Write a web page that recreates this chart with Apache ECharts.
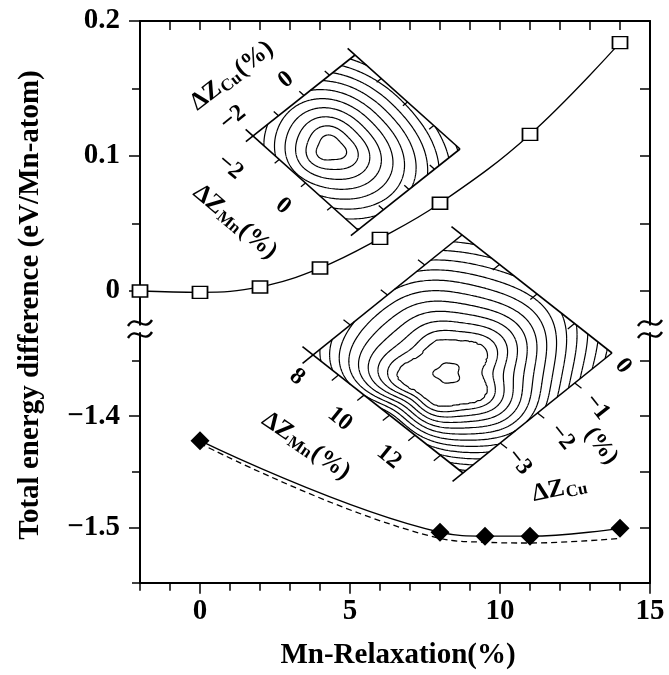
<!DOCTYPE html>
<html>
<head>
<meta charset="utf-8">
<script src="https://cdn.jsdelivr.net/npm/echarts@6/dist/echarts.min.js"></script>
<style>html,body{margin:0;padding:0;background:#fff}#c{width:669px;height:675px}</style>
</head>
<body>
<div id="c"></div>
<script>
// ---------- data ----------
const xMin = -2, xMax = 15;
const upperX = [-2, 0, 2, 4, 6, 8, 11, 14];
const upperY = [0.000, -0.001, 0.003, 0.017, 0.039, 0.065, 0.116, 0.184];
const lowerX = [0, 8, 9.5, 11, 14];
const lowerSolidY = [-1.422, -1.5045, -1.508, -1.508, -1.501];
const lowerDashedY = [-1.4245, -1.510, -1.5135, -1.5142, -1.510];
const xLabelValues = [0, 5, 10, 15];
const upperMajor = [0, 0.1, 0.2];
const upperMinor = [0.05, 0.15];
const upperRight = [0, 0.05, 0.1, 0.15, 0.2];
const lowerMajor = [-1.5, -1.4];
const lowerMinor = [-1.55, -1.45, -1.35];
const lowerRight = [-1.5, -1.45, -1.4, -1.35];
const xTitle = 'Mn-Relaxation(%)';
const yTitle = 'Total energy difference (eV/Mn-atom)';

// inset contour levels (contour index of the model energy surfaces)
const upperInsetLevels = [1, 2, 3, 4, 5, 6, 7, 8, 9, 10, 11, 12, 13];
const lowerInsetLevels = [0.3, 1, 2, 3, 4, 5, 6, 7, 8, 9, 10, 11, 12, 13, 14, 15, 16, 17, 18, 19, 20];

// ---------- helpers ----------
const FONT = 'Liberation Serif';
const black = '#000';
const pairs = (xs, ys) => xs.map((x, i) => [x, ys[i]]);
const fmt = v => v === 0 ? '0' : (v < 0 ? '\u2212' : '') + Math.abs(v).toFixed(1);
const labelStyle = {color: black, fontFamily: FONT, fontWeight: 'bold', fontSize: 29};

function contourPath(f, levels, map, N) {
  const g = [];
  for (let i = 0; i <= N; i++) { g.push([]); for (let j = 0; j <= N; j++) g[i].push(f(i / N, j / N)); }
  let d = '';
  for (const lv of levels) {
    for (let i = 0; i < N; i++) for (let j = 0; j < N; j++) {
      const c = [[i, j], [i + 1, j], [i + 1, j + 1], [i, j + 1]];
      const pts = [];
      for (let e = 0; e < 4; e++) {
        const a = c[e], b = c[(e + 1) % 4];
        const va = g[a[0]][a[1]] - lv, vb = g[b[0]][b[1]] - lv;
        if ((va < 0) !== (vb < 0)) {
          const t = va / (va - vb);
          const u = (a[0] + t * (b[0] - a[0])) / N, v = (a[1] + t * (b[1] - a[1])) / N;
          pts.push(map(u, v));
        }
      }
      for (let k = 0; k + 1 < pts.length; k += 2) {
        d += 'M' + pts[k][0].toFixed(2) + ' ' + pts[k][1].toFixed(2) + 'L' + pts[k + 1][0].toFixed(2) + ' ' + pts[k + 1][1].toFixed(2);
      }
    }
  }
  return d;
}

// model surface: basin of radius r0 around (cu,cv), then contour spacing sp per direction [u+, u-, v+, v-]
function makeField(c) {
  return (u, v) => {
    const du = u - c.cu, dv = v - c.cv;
    const rho = Math.hypot(du, dv), th = Math.atan2(dv, du);
    const cs = Math.cos(th), sn = Math.sin(th);
    const sp = c.sp[0] * Math.max(cs, 0) ** 2 + c.sp[1] * Math.max(-cs, 0) ** 2 +
               c.sp[2] * Math.max(sn, 0) ** 2 + c.sp[3] * Math.max(-sn, 0) ** 2;
    const r0 = c.r0 * (1 + c.wob * Math.sin(3 * th + c.ph) + c.wob2 * Math.sin(5 * th + 0.7));
    const wig = c.wig * Math.sin(2 * th + 9 * rho);
    return rho < r0 ? rho / r0 : 1 + (rho - r0) / sp + wig;
  };
}

const contourPaths = [];
function inset(cfg) {
  const {L, B, T} = cfg;
  const map = (u, v) => [L[0] + u * (B[0] - L[0]) + v * (T[0] - L[0]), L[1] + u * (B[1] - L[1]) + v * (T[1] - L[1])];
  const els = [];
  contourPaths.push(contourPath(cfg.f, cfg.levels, map, 110));
  const ext = 0.07;
  const line = (p, q, w) => els.push({type: 'line', shape: {x1: p[0], y1: p[1], x2: q[0], y2: q[1]}, style: {stroke: black, lineWidth: w || 1.6}, z: 11});
  line(map(0, -ext), map(0, 1));
  line(map(-ext, 0), map(1, 0));
  line(map(-ext, 1), map(1, 1));
  line(map(1, -ext), map(1, 1));
  const tl = 0.045;
  (cfg.t1 || []).forEach(v => line(map(0, v), map(-tl, v), 1.3));
  (cfg.t2 || []).forEach(u => line(map(u, 0), map(u, -tl), 1.3));
  (cfg.t3 || []).forEach(u => line(map(u, 1), map(u, 1 + cfg.s3 * tl), 1.3));
  (cfg.t4 || []).forEach(v => line(map(1, v), map(1 + cfg.s4 * tl, v), 1.3));
  return els;
}

const upperF = makeField({cu: 0.42, cv: 0.33, r0: 0.1, sp: [0.085, 0.075, 0.07, 0.07], wob: 0.12, ph: 0.3, wob2: 0, wig: 0});
const lowerF = makeField({cu: 0.53, cv: 0.37, r0: 0.2, sp: [0.04, 0.06, 0.055, 0.026], wob: 0.1, ph: 2.2, wob2: 0.08, wig: 0.15});

const graphics = [];
graphics.push(...inset({L: [253, 136], B: [358, 230], T: [355, 55], f: upperF, levels: upperInsetLevels,
  t1: [0.25, 0.5, 0.75], t2: [0.25, 0.5, 0.75], t3: [0.25, 0.5, 0.75], s3: -1, t4: [0.25, 0.5, 0.75], s4: -1}));
graphics.push(...inset({L: [313, 355], B: [463, 473], T: [462, 235], f: lowerF, levels: lowerInsetLevels,
  t1: [0.25, 0.5, 0.75], t2: [0.17, 0.34, 0.51, 0.68, 0.85], t3: [0.25, 0.5, 0.75], s3: -1, t4: [0.25, 0.5, 0.75], s4: 1}));

const richSt = {
  m: {fontFamily: FONT, fontWeight: 'bold', fontSize: 25, fill: black},
  s: {fontFamily: FONT, fontWeight: 'bold', fontSize: 17, fill: black, padding: [10, 1, 0, 1]}
};
const insetTexts = [
  // upper inset
  {t: '{m|ΔZ}{s|Cu}{m|(%)}', x: 232, y: 76, r: 0.66},
  {t: '\u22122', x: 233, y: 118, r: 0.68, fs: 24},
  {t: '0', x: 286, y: 80, r: 0.68, fs: 24},
  {t: '{m|ΔZ}{s|Mn}{m|(%)}', x: 235, y: 222, r: -0.7},
  {t: '\u22122', x: 230, y: 167, r: -0.7, fs: 24},
  {t: '0', x: 283, y: 206, r: -0.7, fs: 24},
  // lower inset
  {t: '8', x: 297, y: 377, r: -0.68, fs: 24},
  {t: '10', x: 340, y: 419, r: -0.68, fs: 24},
  {t: '12', x: 389, y: 457, r: -0.68, fs: 24},
  {t: '{m|ΔZ}{s|Mn}{m|(%)}', x: 306, y: 446, r: -0.6},
  {t: '0', x: 623, y: 366, r: -0.9, fs: 24},
  {t: '\u22121', x: 597, y: 407, r: -0.9, fs: 24},
  {t: '\u22122', x: 562, y: 437, r: -0.9, fs: 24},
  {t: '\u22123', x: 519, y: 462, r: -0.9, fs: 24},
  {t: '{m|ΔZ}{s|Cu}', x: 560, y: 489, r: 0.2},
  {t: '(%)', x: 601, y: 446, r: -0.9, fs: 24}
];
insetTexts.forEach(o => {
  graphics.push({type: 'text', x: o.x, y: o.y, rotation: o.r, z: 12,
    style: {text: o.t, fontFamily: FONT, fontWeight: 'bold', fontSize: o.fs || 25, fill: black,
      align: 'center', verticalAlign: 'middle', rich: richSt}});
});

// axis titles
graphics.push({type: 'text', x: 31, y: 305, rotation: Math.PI / 2,
  style: {text: yTitle, fontFamily: FONT, fontWeight: 'bold', fontSize: 29, fill: black, align: 'center', verticalAlign: 'middle'}});
graphics.push({type: 'text', x: 398, y: 656,
  style: {text: xTitle, fontFamily: FONT, fontWeight: 'bold', fontSize: 29, fill: black, align: 'center', verticalAlign: 'middle'}});

// axis break marks
[[140, 323], [140, 335], [650, 323], [650, 335]].forEach(p => {
  graphics.push({type: 'bezierCurve', x: p[0], y: p[1], z: 20,
    shape: {x1: -12, y1: 3, cpx1: -4, cpy1: -10, cpx2: 4, cpy2: 10, x2: 12, y2: -3},
    style: {stroke: black, lineWidth: 2.4, fill: null}});
});

const axLine = {show: true, onZero: false, lineStyle: {color: black, width: 2}};
const noLine = {show: false, onZero: false};
const tickSt = {color: black, width: 1.5};
const noSplit = {show: false};

const option = {
  animation: false,
  backgroundColor: '#fff',
  grid: [
    {left: 140, top: 21, width: 510, height: 303.75},
    {left: 140, top: 333, width: 510, height: 249.75}
  ],
  xAxis: [
    {gridIndex: 0, type: 'value', position: 'top', min: xMin, max: xMax, interval: 1,
      axisLine: axLine, axisTick: {inside: true, length: 9, lineStyle: tickSt}, axisLabel: {show: false}, splitLine: noSplit},
    {gridIndex: 1, type: 'value', position: 'bottom', min: xMin, max: xMax, interval: 1,
      axisLine: axLine, axisTick: {inside: false, length: 8, lineStyle: tickSt},
      axisLabel: Object.assign({customValues: xLabelValues, margin: 14}, labelStyle), splitLine: noSplit},
    {gridIndex: 1, type: 'value', position: 'bottom', min: xMin, max: xMax,
      axisLine: noLine, axisTick: {customValues: xLabelValues, length: 11, lineStyle: tickSt},
      axisLabel: {show: false}, splitLine: noSplit}
  ],
  yAxis: [
    {gridIndex: 0, type: 'value', position: 'left', min: -0.025, max: 0.2,
      axisLine: axLine, axisTick: {customValues: upperMajor, length: 11, lineStyle: tickSt},
      axisLabel: Object.assign({customValues: upperMajor, formatter: fmt, margin: 20}, labelStyle), splitLine: noSplit},
    {gridIndex: 0, type: 'value', position: 'left', min: -0.025, max: 0.2,
      axisLine: noLine, axisTick: {customValues: upperMinor, length: 8, lineStyle: tickSt},
      axisLabel: {show: false}, splitLine: noSplit},
    {gridIndex: 0, type: 'value', position: 'right', min: -0.025, max: 0.2,
      axisLine: axLine, axisTick: {inside: true, customValues: upperRight, length: 10, lineStyle: tickSt},
      axisLabel: {show: false}, splitLine: noSplit},
    {gridIndex: 1, type: 'value', position: 'left', min: -1.55, max: -1.325,
      axisLine: axLine, axisTick: {customValues: lowerMajor, length: 11, lineStyle: tickSt},
      axisLabel: Object.assign({customValues: lowerMajor, formatter: fmt, margin: 20}, labelStyle), splitLine: noSplit},
    {gridIndex: 1, type: 'value', position: 'left', min: -1.55, max: -1.325,
      axisLine: noLine, axisTick: {customValues: lowerMinor, length: 8, lineStyle: tickSt},
      axisLabel: {show: false}, splitLine: noSplit},
    {gridIndex: 1, type: 'value', position: 'right', min: -1.55, max: -1.325,
      axisLine: axLine, axisTick: {inside: true, customValues: lowerRight, length: 10, lineStyle: tickSt},
      axisLabel: {show: false}, splitLine: noSplit}
  ],
  series: [
    {type: 'line', xAxisIndex: 0, yAxisIndex: 0, data: pairs(upperX, upperY), smooth: 0.4, clip: false,
      symbol: 'rect', symbolSize: [15, 12], z: 5,
      itemStyle: {color: '#fff', borderColor: black, borderWidth: 1.6},
      lineStyle: {color: black, width: 1.3}},
    {type: 'line', xAxisIndex: 1, yAxisIndex: 3, data: pairs(lowerX, lowerDashedY), smooth: 0.4, clip: false,
      symbol: 'none', z: 4, lineStyle: {color: black, width: 1.3, type: [6, 4]}},
    {type: 'line', xAxisIndex: 1, yAxisIndex: 3, data: pairs(lowerX, lowerSolidY), smooth: 0.4, clip: false,
      symbol: 'diamond', symbolSize: [19, 19], z: 5,
      itemStyle: {color: black, borderColor: black, borderWidth: 0},
      lineStyle: {color: black, width: 1.3}},
    {type: 'custom', coordinateSystem: 'none', data: [0], silent: true, z: 8,
      renderItem: () => ({type: 'group', children: contourPaths.map(d => ({
        type: 'path', shape: {pathData: d}, style: {stroke: black, lineWidth: 1.2, fill: null}}))})}
  ],
  graphic: graphics
};

const chart = echarts.init(document.getElementById('c'), null, {renderer: 'canvas'});
chart.setOption(option);
</script>
</body>
</html>
